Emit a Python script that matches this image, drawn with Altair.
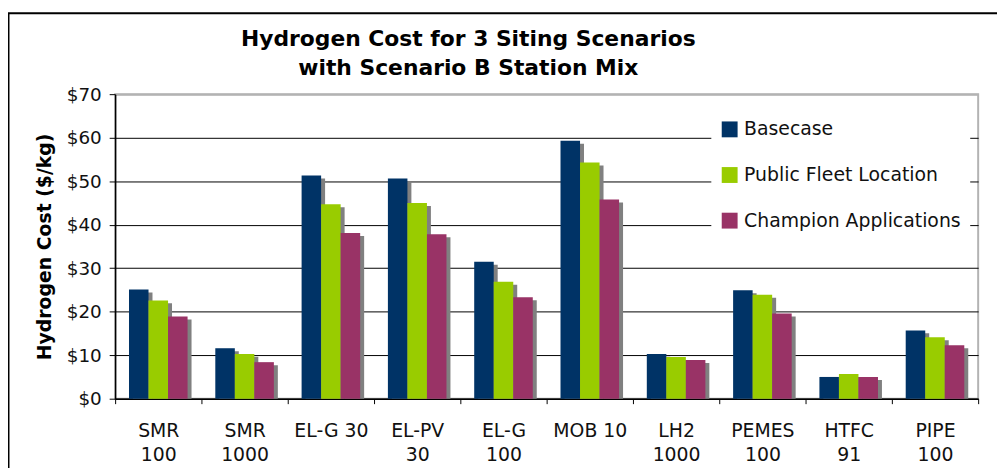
import altair as alt
import pandas as pd

categories = ["SMR\n100", "SMR\n1000", "EL-G 30", "EL-PV\n30", "EL-G\n100",
              "MOB 10", "LH2\n1000", "PEMES\n100", "HTFC\n91", "PIPE\n100"]
series = ["Basecase", "Public Fleet Location", "Champion Applications"]
basecase = [25.1, 11.6, 51.3, 50.6, 31.5, 59.3, 10.3, 24.9, 5.0, 15.7]
public_fleet = [22.6, 10.3, 44.7, 45.0, 26.9, 54.3, 9.6, 23.9, 5.7, 14.1]
champion = [18.9, 8.4, 38.1, 37.8, 23.3, 45.8, 8.9, 19.6, 5.0, 12.3]
colors = ["#003366", "#99CC00", "#993366"]
y_ticks = [0, 10, 20, 30, 40, 50, 60, 70]

rows = []
for s, vals in zip(series, [basecase, public_fleet, champion]):
    for c, v in zip(categories, vals):
        rows.append({"cat": c, "series": s, "value": v})
df = pd.DataFrame(rows)

FONT = "DejaVu Sans"
FS = 19

x_enc = alt.X("cat:N", sort=categories,
              scale=alt.Scale(paddingInner=0, paddingOuter=0),
              axis=alt.Axis(title=None, labelAngle=0, tickBand="extent",
                            labelExpr="split(datum.label, '\\n')",
                            labelLineHeight=24, labelFontSize=FS,
                            labelPadding=18, tickSize=5, labelBaseline="top"))
y_enc = alt.Y("value:Q", scale=alt.Scale(domain=[0, 70], nice=False),
              axis=alt.Axis(title="Hydrogen Cost  ($/kg)", values=y_ticks,
                            labelExpr="'$' + datum.value", labelFontSize=18.5,
                            labelPadding=8, tickSize=6, titleFontSize=19,
                            titleFontWeight="bold", titlePadding=12,
                            gridColor={"condition": {"test": "datum.value === 70", "value": "#b3b3b3"}, "value": "#000000"},
                            gridWidth={"condition": {"test": "datum.value === 70", "value": 2}, "value": 1}))

shadow = alt.Chart(df).mark_bar(color="#808080", yOffset=3, clip=True).encode(
    x=x_enc,
    xOffset=alt.XOffset("series:N", sort=series,
                        scale=alt.Scale(domain=series, paddingInner=0, paddingOuter=0.71, range=[4, 91])),
    y=y_enc)

bars = alt.Chart(df).mark_bar().encode(
    x=x_enc,
    xOffset=alt.XOffset("series:N", sort=series,
                        scale=alt.Scale(domain=series, paddingInner=0, paddingOuter=0.71, range=[0, 87])),
    y=y_enc,
    color=alt.Color("series:N", sort=series,
                    scale=alt.Scale(domain=series, range=colors),
                    legend=alt.Legend(title=None, orient="none", legendX=601, legendY=17,
                                      symbolType="square", symbolSize=256,
                                      symbolStrokeWidth=0, labelFontSize=FS,
                                      labelOffset=5, rowPadding=26, padding=9,
                                      fillColor="white", labelLimit=400)))

frame = alt.Chart(pd.DataFrame({"a": [0]})).mark_rect(
    fill="white", fillOpacity=0, stroke="black", strokeWidth=2, clip=False).encode(
    x=alt.value(-107.5), x2=alt.value(920), y=alt.value(-81.5), y2=alt.value(420))

chart = alt.layer(frame, shadow, bars).resolve_scale(xOffset="independent").properties(
    width=870, height=307,
    autosize=alt.AutoSizeParams(type="none"),
    padding={"left": 108, "top": 85, "right": 19, "bottom": 68},
    title=alt.TitleParams(["Hydrogen Cost for 3 Siting Scenarios", "with Scenario B Station Mix"],
                          anchor="middle", dx=-79, fontSize=22, fontWeight="bold",
                          lineHeight=29, offset=-68, font=FONT, color="#000000"),
).configure(font=FONT).configure_axis(
    labelFont=FONT, titleFont=FONT, labelColor="#111111", titleColor="#000000",
    domainColor="#000000", tickColor="#000000", domainWidth=1.5
).configure_legend(labelFont=FONT, labelColor="#111111").configure_view(
    stroke="#b3b3b3", strokeWidth=2)

chart.save("out.html", embed_options={"renderer": "svg", "actions": False})
